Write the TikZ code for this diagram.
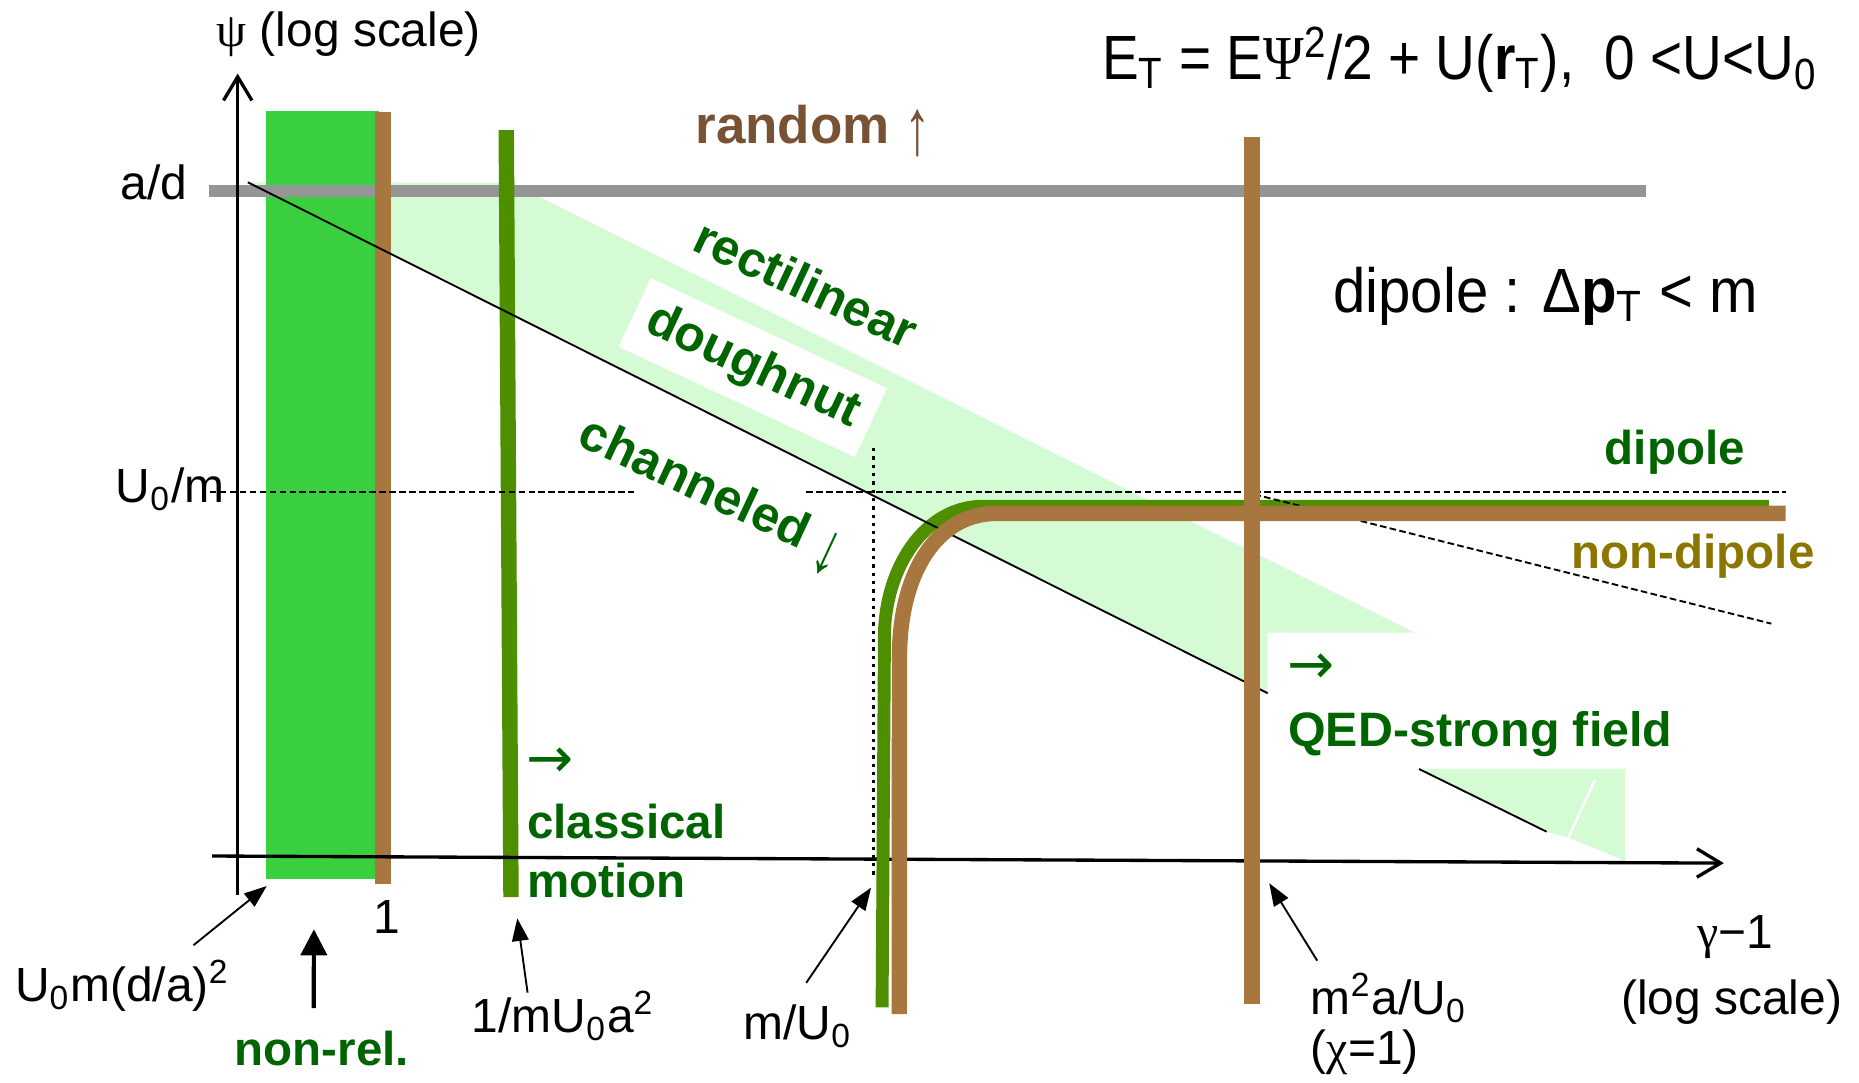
\documentclass[tikz,border=0pt]{standalone}
\usepackage{fontspec}
\setmainfont{Liberation Sans}
\newfontfamily\grk{Liberation Serif}
\newfontfamily\arw{DejaVu Sans}
\usetikzlibrary{arrows.meta}
\definecolor{bandgreen}{HTML}{D4FBD4}
\definecolor{bargreen}{HTML}{3ACF3F}
\definecolor{olivebar}{HTML}{4E8F00}
\definecolor{tanbar}{HTML}{A8773F}
\definecolor{railgrey}{HTML}{959595}
\definecolor{tagsgreen}{HTML}{006400}
\definecolor{tagsolive}{HTML}{8A7600}
\definecolor{tagsbrown}{HTML}{785234}
\newcommand{\tallup}{\raisebox{-0.2em}{\scalebox{1}[1.5]{↑}}}
\newcommand{\talldown}{\raisebox{-0.25em}{\scalebox{1}[1.5]{↓}}}

\begin{document}
\begin{tikzpicture}[x=0.1mm,y=-0.1mm,>=Latex,
  lbl/.style={font=\fontsize{11.5}{13}\selectfont,inner sep=0pt},
  big/.style={font=\fontsize{15}{18}\selectfont,inner sep=0pt},
  tag/.style={font=\fontsize{11.4}{13}\selectfont\bfseries,text=tagsgreen,inner sep=0pt},
  slanted/.style={tag,font=\fontsize{12}{14}\selectfont\bfseries,rotate=-25},
  pointer/.style={tag,font=\fontsize{13.5}{15}\arw\mdseries},
  axis/.style={line width=0.8pt,-{Straight Barb[length=2mm,width=2.4mm]}},
  ptr/.style={line width=0.45pt,-{Triangle[length=1.9mm,width=1.4mm]}},
  ptrbig/.style={line width=1pt,-{Triangle[length=2.2mm,width=2.2mm]}},
  guide/.style={line width=0.45pt,dash pattern=on 0.56mm off 0.28mm},
  bound/.style={line width=0.45pt}]
\useasboundingbox (0,0) rectangle (1568,913);
\fill[bandgreen] (209,153.7) -- (431,154) -- (1193,533.5) -- (1069,533.5) -- (1069,584.7) -- cycle;
\fill[bandgreen] (1197,648.6) -- (1370.6,648.6) -- (1370.6,726) -- (1322.8,706.5) -- (1304.5,701.5) -- cycle;
\draw[white,line width=0.6pt] (1345.3,657.9) -- (1322.8,706.5);
\node[slanted,fill=white,minimum width=22mm,minimum height=6.4mm] (doughnut) at (635,310) {doughnut};
\fill[bargreen] (224,93.6) rectangle (320,741.7);
\draw[railgrey,line width=1.05mm] (176,161) -- (1388,161);
\draw[tanbar,line width=1.32mm] (323,94.5) -- (323,746);
\draw[olivebar,line width=1.3mm] (427,109.7) -- (431,756.6);
\draw[axis] (200.5,755) -- (200.5,62);
\draw[axis] (179,722) -- (1454,728);
\draw[line width=0.8pt,dash pattern=on 0.28mm off 0.42mm] (737,378) -- (737,741);
\draw[guide] (177,415) -- (535,415);
\draw[guide] (680,415) -- (1506,415);
\draw[olivebar,line width=1.09mm] (744,849.7) -- (746,537) .. controls (746,480.8) and (778.8,427) .. (829.4,427) -- (1492,427);
\draw[bound] (209,153.7) -- (1069.2,584.7);
\draw[bound] (1196.9,648.6) -- (1304.5,701.5);
\draw[guide] (1058,417) -- (1494,526);
\draw[tanbar,line width=1.3mm] (758.5,855.3) -- (758.7,553.9) .. controls (758.7,483.6) and (790.1,433) .. (840.6,433) -- (1506,433);
\draw[tanbar,line width=1.4mm] (1056,115.3) -- (1056,847);

\node[lbl,anchor=base west] (psilbl) at (182,39.4) {{\grk ψ} (log scale)};
\node[big,anchor=base west] (energy) at (929,67) {\scalebox{0.88}[1]{E\textsubscript{T} = E{\grk Ψ}\textsuperscript{2}/2 + U(\textbf{r}\textsubscript{T}),\ \ 0 <U<U\textsubscript{0}}};
\node[tag,text=tagsbrown,font=\fontsize{12.7}{15}\selectfont\bfseries,anchor=base west] (random) at (586,121) {random {\mdseries\tallup}};
\node[lbl,anchor=base] (adlbl) at (130,168) {a/d};
\node[lbl,anchor=base west] (umlbl) at (97,424) {U\textsubscript{0}/m};
\node[big,anchor=base west] (dipcond) at (1124,263.4) {\scalebox{0.93}[1]{dipole : Δ\textbf{p}\textsubscript{T} < m}};
\node[slanted] (rectil) at (680,239) {rectilinear};
\node[slanted] (chan) at (599,418) {channeled {\mdseries\talldown}};
\node[tag,anchor=base west] (dipole) at (1353,392) {dipole};
\node[tag,text=tagsolive,anchor=base west] (nondip) at (1325,479.4) {non-dipole};
\node[pointer] (clarrow) at (464,643) {→};
\node[tag,anchor=base west] (classical) at (444,707) {classical};
\node[tag,anchor=base west] (motion) at (444,756.6) {motion};
\node[pointer] (qedarrow) at (1106,563.6) {→};
\node[tag,font=\fontsize{11.6}{14}\selectfont\bfseries,anchor=base west] (qed) at (1086,629.8) {QED-strong field};

\node[lbl,anchor=base west] (lowlbl) at (12,845) {U\textsubscript{0}m(d/a)\textsuperscript{2}};
\node[tag,anchor=base] (nonrel) at (271.6,899) {non-rel.};
\node[lbl,anchor=base] (onelbl) at (326,787.2) {1};
\node[lbl,anchor=base] (classlbl) at (475,871) {1/mU\textsubscript{0}a\textsuperscript{2}};
\node[lbl,anchor=base] (mulbl) at (673,877) {m/U\textsubscript{0}};
\node[lbl,anchor=base west] (chilbl) at (1105,856) {m\textsuperscript{2}a/U\textsubscript{0}};
\node[lbl,anchor=base west] (chione) at (1105,898) {({\grk χ}=1)};
\node[lbl,anchor=base] (gamlbl) at (1464,799.6) {{\grk γ}−1};
\node[lbl,anchor=base] (logx) at (1460.6,856) {(log scale)};
\coordinate (lowtip) at (225,747.3);
\coordinate (nonreltip) at (264.8,783.8);
\coordinate (classtip) at (436.3,774.6);
\coordinate (mutip) at (734.7,748.7);
\coordinate (chitip) at (1070.6,745);
\draw[ptr] ([xshift=6mm,yshift=1.2mm]lowlbl.north) -- (lowtip);
\draw[ptrbig] ([xshift=-0.7mm,yshift=1.9mm]nonrel.north) -- (nonreltip);
\draw[ptr] ([xshift=-3mm,yshift=-0.2mm]classlbl.north) -- (classtip);
\draw[ptr] ([xshift=0.7mm,yshift=1.8mm]mulbl.north) -- (mutip);
\draw[ptr] ([xshift=0.6mm,yshift=1mm]chilbl.north west) -- (chitip);
\end{tikzpicture}
\end{document}
